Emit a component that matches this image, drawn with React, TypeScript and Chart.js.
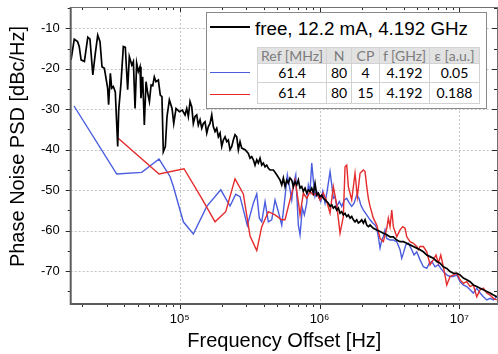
import React, { useEffect, useRef } from "react";
import { Chart, registerables } from "chart.js";

Chart.register(...registerables);

const FONT = '"Liberation Sans", Arial, Helvetica, sans-serif';
const TABLE_FONT = 'Lato, "Open Sans", sans-serif';

// ---- free-running oscillator (black) ----
const freeFreq = [
  16700, 17600, 18600, 19100, 19700, 20800, 22000, 22800, 23900, 24900,
  25900, 26900, 27800, 28900, 30500, 31000, 31900, 32600, 33500, 34600,
  36000, 36600, 38000, 39500, 40800, 42400, 43600, 45400, 46600, 47900,
  49200, 50600, 52000, 52800, 54300, 55800, 57400, 59000, 60700, 62400,
  64100, 65800, 67600, 70300, 72600, 74600, 76300, 78900, 81100, 84300,
  88100, 90600, 94100, 99400,
  104300, 109100, 112200, 115200, 118500, 121900, 125100, 128700, 132300, 135800,
  139700, 143700, 147500, 151700, 156100, 160200, 164700, 169400, 173900, 178800,
  183900, 188900, 194300, 199700, 205100, 210900, 216900, 222600, 229000, 235500,
  241800, 248600, 255700, 262600, 270000, 277600, 293200, 309500, 318400, 327300,
  336200, 345600, 355600, 364900, 375300, 386000, 396300, 407600, 419200, 430400,
  442600,
  467500, 494100, 521900, 536600, 551000, 566600, 582700, 598200, 615200, 632600,
  649600, 667900, 686900, 705300, 725300, 745900, 765800, 787500, 809800, 831500,
  855100, 879300, 902800, 928400, 955000, 980400, 1008000, 1037000, 1065000, 1095000,
  1126000, 1156000, 1189000, 1223000, 1255000, 1291000, 1327000, 1363000, 1402000, 1441000,
  1480000, 1522000, 1565000, 1607000, 1653000, 1699000, 1745000, 1794000, 1845000, 1895000,
  1949000, 2004000, 2058000, 2116000, 2176000, 2234000, 2298000, 2426000, 2565000, 2709000,
  2860000, 3025000, 3193000, 3372000, 3566000, 3766000, 3976000, 4205000, 4439000, 4688000,
  4958000, 5235000, 5527000, 5847000, 6172000, 6517000, 6892000, 7277000, 7684000, 8127000,
  8582000, 9061000, 9581000, 10120000, 10680000, 11300000, 11930000, 12600000, 13320000, 14070000,
  14850000, 15710000, 16590000, 17510000, 18520000,
];
const freeVal = [
  -17.8, -12.7, -13.3, -14.5, -17.8, -18.2, -12.2, -12.7, -21.5, -16.2,
  -11.7, -13.3, -19.5, -19.9, -24.8, -28.9, -21.1, -24.8, -24.4, -25.7,
  -39.2, -30.2, -23.6, -14.5, -14.7, -25.2, -17.0, -19.1, -18.2, -29.8,
  -18.6, -20.7, -19.5, -27.3, -22.0, -33.9, -23.2, -26.0, -28.1, -24.0,
  -24.2, -22.0, -23.2, -22.8, -26.5, -26.9, -40.5, -39.2, -31.8, -27.7,
  -29.8, -33.5, -29.8, -30.6,
  -30.2, -31.4, -29.8, -31.8, -28.1, -29.4, -33.5, -31.8, -31.4, -33.9,
  -32.6, -34.7, -33.5, -33.1, -35.9, -34.3, -33.5, -31.4, -34.3, -35.5,
  -34.7, -36.8, -35.9, -39.2, -37.6, -36.8, -38.0, -37.6, -40.0, -39.2,
  -37.6, -36.3, -36.8, -40.0, -38.0, -39.6, -40.0, -40.9, -42.1, -41.7,
  -42.5, -43.8, -42.5, -43.3, -42.1, -43.8, -43.3, -44.2, -43.8, -44.6,
  -45.0,
  -45.0, -46.2, -47.5, -48.7, -47.0, -49.1, -47.5, -48.3, -47.0, -47.5,
  -49.1, -47.9, -48.7, -47.5, -49.5, -49.1, -50.3, -49.5, -50.7, -49.9,
  -50.3, -49.5, -50.7, -48.3, -51.2, -50.7, -51.6, -51.2, -52.0, -52.4,
  -52.8, -53.2, -54.0, -53.6, -54.4, -54.0, -54.9, -54.4, -55.7, -55.3,
  -56.1, -55.7, -56.5, -56.1, -56.9, -56.5, -57.3, -57.8, -57.3, -58.1,
  -57.8, -57.3, -58.1, -57.3, -58.6, -59.0, -58.6, -59.4, -59.8, -60.2,
  -60.6, -61.0, -61.5, -61.5, -62.3, -62.7, -62.7, -63.1, -63.5, -63.9,
  -64.3, -64.7, -65.2, -66.0, -66.4, -66.8, -67.6, -68.0, -68.9, -69.3,
  -70.1, -70.5, -70.5, -70.9, -71.7, -72.1, -72.6, -73.4, -73.8, -74.2,
  -74.6, -75.0, -75.4, -75.9, -76.3,
];

// ---- locked, CP = 4 (blue) ----
const cp4Freq = [
  17540, 35430, 53480, 71110, 85220, 90040, 106100, 125100, 156100, 196600,
  229000, 251500, 270000, 304400, 336200, 355600, 371100, 386000, 407600, 430400,
  455000, 480400, 507400, 536600, 566600, 588400, 615200, 632600, 649600, 675800,
  705300, 725300, 753400, 778500, 809800, 831500, 855100, 879300, 902800, 928400,
  955000, 980400, 1020000, 1054000, 1095000, 1137000, 1189000, 1223000, 1255000, 1291000,
  1327000, 1385000, 1441000, 1504000, 1565000, 1634000, 1699000, 1766000, 1845000, 1916000,
  1970000, 2058000, 2176000, 2298000, 2402000, 2495000, 2565000, 2634000, 2709000, 2786000,
  2860000, 2941000, 3025000, 3193000, 3372000, 3566000, 3766000, 3873000, 3976000, 4137000,
  4317000, 4565000, 4742000, 4958000, 5235000, 5527000, 5847000, 6101000, 6348000, 6702000,
  7077000, 7362000, 7684000, 8127000, 8582000, 9061000, 9581000, 10120000, 10680000, 11300000,
  11930000, 12600000, 13320000, 14070000, 14850000, 15710000, 16590000, 17510000, 18520000, 19240000,
];
const cp4Val = [
  -29.2, -46.0, -45.6, -42.3, -46.6, -49.1, -57.8, -60.8, -54.0, -49.9,
  -53.9, -51.0, -51.6, -58.7, -53.2, -50.9, -56.9, -57.8, -52.8, -57.8,
  -57.3, -52.4, -55.3, -58.6, -51.6, -46.2, -49.9, -52.4, -48.7, -46.2,
  -58.6, -61.0, -54.4, -56.1, -53.2, -48.7, -50.3, -43.3, -47.5, -51.6,
  -50.3, -51.6, -52.8, -50.3, -53.2, -49.9, -45.4, -48.7, -52.0, -51.6,
  -54.0, -52.8, -54.0, -52.4, -52.0, -53.2, -54.0, -53.2, -51.2, -52.0,
  -53.6, -54.9, -56.1, -57.3, -58.1, -58.6, -59.4, -61.5, -64.3, -62.3,
  -61.5, -59.8, -61.9, -62.3, -62.3, -62.7, -64.7, -66.8, -65.6, -63.5,
  -63.1, -64.7, -66.0, -65.2, -67.2, -68.9, -69.3, -68.0, -67.6, -68.9,
  -68.4, -69.3, -70.1, -70.9, -71.3, -71.3, -70.9, -72.6, -73.4, -73.8,
  -74.6, -75.4, -74.2, -75.4, -76.3, -77.1, -76.7, -77.1, -76.3, -76.6,
];

// ---- locked, CP = 15 (red) ----
const cp15Freq = [
  35780, 71110, 107300, 143700, 178800, 213300, 248600, 285000, 318400, 355600,
  386000, 430400, 480400, 536600, 566600, 598200, 632600, 667900, 705300, 725300,
  765800, 809800, 855100, 902800, 955000, 1008000, 1065000, 1126000, 1189000, 1255000,
  1327000, 1402000, 1480000, 1522000, 1565000, 1607000, 1699000, 1794000, 1864000, 1949000,
  2058000, 2116000, 2176000, 2234000, 2298000, 2426000, 2565000, 2709000, 2860000, 3025000,
  3105000, 3193000, 3285000, 3372000, 3566000, 3766000, 3937000, 4089000, 4205000, 4439000,
  4688000, 4958000, 5090000, 5235000, 5527000, 5847000, 6172000, 6517000, 6813000, 7077000,
  7362000, 7684000, 8127000, 8582000, 9061000, 9581000, 10120000, 10680000, 11300000, 11930000,
  12600000, 13320000, 14070000, 14850000, 15710000, 16590000, 17510000, 18520000,
];
const cp15Val = [
  -37.0, -46.0, -44.7, -52.0, -57.8, -55.3, -47.2, -50.9, -61.3, -64.9,
  -59.0, -55.3, -56.1, -57.3, -57.3, -54.0, -50.7, -47.5, -52.8, -56.1,
  -50.7, -52.0, -50.3, -51.2, -50.7, -52.4, -50.7, -52.8, -55.7, -49.1,
  -53.6, -60.6, -56.5, -44.2, -43.8, -49.1, -52.4, -45.8, -51.6, -45.8,
  -45.0, -45.4, -49.1, -52.0, -54.0, -56.9, -58.6, -61.9, -62.7, -59.4,
  -56.9, -59.0, -54.9, -59.0, -61.5, -59.8, -59.0, -59.4, -61.5, -62.7,
  -63.1, -63.9, -64.7, -63.9, -63.9, -65.2, -68.4, -67.2, -66.0, -68.0,
  -66.0, -68.9, -73.4, -71.3, -70.9, -70.5, -72.1, -73.0, -72.6, -73.8,
  -73.4, -76.3, -74.6, -74.2, -75.4, -75.9, -76.7, -77.1,
];

// ---- axes ----
const xTickValues = [
  20000, 30000, 40000, 50000, 60000, 70000, 80000, 90000,
  100000, 200000, 300000, 400000, 500000, 600000, 700000, 800000, 900000,
  1000000, 2000000, 3000000, 4000000, 5000000, 6000000, 7000000, 8000000, 9000000,
  10000000,
];
const xLabelValues = [100000, 1000000, 10000000];
const xTickLabels = ["10⁵", "10⁶", "10⁷"];
const yTickValues = [-75, -70, -65, -60, -55, -50, -45, -40, -35, -30, -25, -20, -15, -10, -5];
const yLabelValues = [-70, -60, -50, -40, -30, -20, -10];
const yTickLabels = ["-70", "-60", "-50", "-40", "-30", "-20", "-10"];
const xTitle = "Frequency Offset [Hz]";
const yTitle = "Phase Noise PSD [dBc/Hz]";
const X_MIN = 16600;
const X_MAX = 18900000;
const Y_MIN = -78.1;
const Y_MAX = -4.75;

// ---- legend ----
const freeLabel = "free, 12.2 mA, 4.192 GHz";
const tableHeader = ["Ref [MHz]", "N", "CP", "f [GHz]", "ε [a.u.]"];
const tableRows = [
  ["61.4", "80", "4", "4.192", "0.05"],
  ["61.4", "80", "15", "4.192", "0.188"],
];

const COLORS = { free: "#000000", cp4: "#4a5ddf", cp15: "#e52b2b" };

const isMajorX = (v: number) => xLabelValues.some((m) => Math.abs(m - v) / m < 1e-6);
const isMajorY = (v: number) => yLabelValues.includes(v);

const framePlugin = {
  id: "frameGrid",
  beforeDatasetsDraw(chart: any) {
    const { ctx, chartArea: a } = chart;
    const xs = chart.scales.x;
    const ys = chart.scales.y;
    ctx.save();
    ctx.strokeStyle = "#c3c3c3";
    ctx.lineWidth = 1;
    ctx.setLineDash([2, 2]);
    ctx.beginPath();
    for (const v of xLabelValues) {
      const p = Math.round(xs.getPixelForValue(v)) + 0.5;
      ctx.moveTo(p, a.top);
      ctx.lineTo(p, a.bottom);
    }
    for (const v of yLabelValues) {
      const p = Math.round(ys.getPixelForValue(v)) + 0.5;
      ctx.moveTo(a.left, p);
      ctx.lineTo(a.right, p);
    }
    ctx.stroke();
    ctx.restore();
  },
  afterDatasetsDraw(chart: any) {
    const { ctx, chartArea: a } = chart;
    const xs = chart.scales.x;
    const ys = chart.scales.y;
    ctx.save();
    ctx.strokeStyle = "#2a2a2a";
    ctx.lineWidth = 1;
    ctx.beginPath();
    for (const v of xTickValues) {
      const p = Math.round(xs.getPixelForValue(v)) + 0.5;
      const L = isMajorX(v) ? 5 : 3;
      ctx.moveTo(p, a.bottom);
      ctx.lineTo(p, a.bottom + L);
      ctx.moveTo(p, a.top);
      ctx.lineTo(p, a.top + L);
    }
    for (const v of yTickValues) {
      const p = Math.round(ys.getPixelForValue(v)) + 0.5;
      const L = isMajorY(v) ? 5 : 3;
      ctx.moveTo(a.left, p);
      ctx.lineTo(a.left - L, p);
      ctx.moveTo(a.right, p);
      ctx.lineTo(a.right - L - 1, p);
    }
    ctx.stroke();
    ctx.strokeStyle = "#5c5c5c";
    ctx.lineWidth = 2;
    ctx.beginPath();
    ctx.moveTo(a.left, a.top);
    ctx.lineTo(a.left, a.bottom + 1);
    ctx.moveTo(a.left - 1, a.bottom);
    ctx.lineTo(a.right, a.bottom);
    ctx.stroke();
    ctx.lineWidth = 1;
    ctx.strokeStyle = "#707070";
    ctx.beginPath();
    ctx.moveTo(a.left, a.top + 0.5);
    ctx.lineTo(a.right, a.top + 0.5);
    ctx.moveTo(a.right - 0.5, a.top);
    ctx.lineTo(a.right - 0.5, a.bottom);
    ctx.stroke();

    // y-axis title (rotated), slightly above the axis middle as in the original
    ctx.fillStyle = "#000";
    ctx.font = `20px ${FONT}`;
    ctx.textAlign = "center";
    ctx.textBaseline = "middle";
    ctx.translate(18.7, (a.top + a.bottom) / 2 - 9);
    ctx.rotate(-Math.PI / 2);
    ctx.fillText(yTitle, 0, 0);
    ctx.restore();
  },
};

const toPoints = (f: number[], v: number[]) => f.map((x, i) => ({ x, y: v[i] }));

export default function App() {
  const ref = useRef<HTMLCanvasElement>(null);
  useEffect(() => {
    const chart = new Chart(ref.current as HTMLCanvasElement, {
      type: "line",
      data: {
        datasets: [
          {
            label: freeLabel,
            data: toPoints(freeFreq, freeVal),
            borderColor: COLORS.free,
            borderWidth: 1.7,
            pointRadius: 0,
            tension: 0,
            order: 1,
          },
          {
            label: "CP 4",
            data: toPoints(cp4Freq, cp4Val),
            borderColor: COLORS.cp4,
            borderWidth: 1.4,
            pointRadius: 0,
            tension: 0,
            order: 3,
          },
          {
            label: "CP 15",
            data: toPoints(cp15Freq, cp15Val),
            borderColor: COLORS.cp15,
            borderWidth: 1.4,
            pointRadius: 0,
            tension: 0,
            order: 2,
          },
        ],
      },
      options: {
        animation: false,
        responsive: false,
        devicePixelRatio: 1,
        layout: { padding: { top: 7, right: 0, bottom: 0, left: 0 } },
        plugins: { legend: { display: false }, tooltip: { enabled: false } },
        scales: {
          x: {
            type: "logarithmic",
            min: X_MIN,
            max: X_MAX,
            afterBuildTicks: (s: any) => {
              s.ticks = xTickValues.map((value) => ({ value }));
            },
            afterFit: (s: any) => {
              s.height = 50;
              s.paddingLeft = 0;
              s.paddingRight = 0;
            },
            grid: { display: false, drawTicks: false },
            border: { display: false },
            ticks: {
              autoSkip: false,
              maxRotation: 0,
              minRotation: 0,
              padding: 7.5,
              color: "#000",
              font: { family: FONT, size: 13 },
              callback: (v: any) => {
                const i = xLabelValues.findIndex((m) => Math.abs(m - Number(v)) / m < 1e-6);
                return i >= 0 ? xTickLabels[i] : "";
              },
            },
            title: {
              display: true,
              text: xTitle,
              color: "#000",
              font: { family: FONT, size: 20 },
              padding: { top: 0, bottom: 1 },
            },
          },
          y: {
            type: "linear",
            min: Y_MIN,
            max: Y_MAX,
            afterBuildTicks: (s: any) => {
              s.ticks = yTickValues.map((value) => ({ value }));
            },
            afterFit: (s: any) => {
              s.width = 70.7;
              s.paddingTop = 0;
              s.paddingBottom = 0;
            },
            grid: { display: false, drawTicks: false },
            border: { display: false },
            ticks: {
              autoSkip: false,
              padding: 11,
              color: "#000",
              font: { family: FONT, size: 13 },
              callback: (v: any) => {
                const i = yLabelValues.indexOf(Number(v));
                return i >= 0 ? yTickLabels[i] : "";
              },
            },
            title: { display: false, text: yTitle },
          },
        },
      },
      plugins: [framePlugin],
    } as any);
    return () => chart.destroy();
  }, []);

  const cellBorder = "1px solid #d2d2d2";
  const colWidths = [69, 25, 28, 50, 50];
  const rowHeights = [19, 21];

  return (
    <div style={{ position: "fixed", left: 0, top: 0, width: 498, height: 354, overflow: "hidden", background: "#fff" }}>
      <canvas ref={ref} width={498} height={354} style={{ display: "block", width: 498, height: 354 }} />
      <div
        style={{
          position: "absolute",
          left: 206,
          top: 12,
          width: 281,
          height: 97,
          boxSizing: "border-box",
          border: "1px solid #8a8a8a",
          background: "#fff",
        }}
      />
      <div style={{ position: "absolute", left: 210, top: 26, width: 40, height: 2, background: COLORS.free }} />
      <div
        style={{
          position: "absolute",
          left: 255,
          top: 19.5,
          fontFamily: FONT,
          fontSize: 18.8,
          lineHeight: "18px",
          whiteSpace: "nowrap",
          color: "#000",
        }}
      >
        {freeLabel}
      </div>
      <div style={{ position: "absolute", left: 210, top: 71.5, width: 40, height: 1.6, background: COLORS.cp4 }} />
      <div style={{ position: "absolute", left: 210, top: 93.5, width: 40, height: 1.6, background: COLORS.cp15 }} />
      <table
        style={{
          position: "absolute",
          left: 257,
          top: 47,
          width: 222,
          borderCollapse: "collapse",
          tableLayout: "fixed",
          fontFamily: TABLE_FONT,
          fontSize: 14,
          lineHeight: 1,
        }}
      >
        <colgroup>
          {colWidths.map((w, i) => (
            <col key={i} style={{ width: w }} />
          ))}
        </colgroup>
        <tbody>
          <tr style={{ height: 16, background: "#e2e2e2", color: "#7c7c7c" }}>
            {tableHeader.map((h, i) => (
              <td key={i} style={{ border: cellBorder, padding: 0, textAlign: "center", whiteSpace: "nowrap" }}>
                {h}
              </td>
            ))}
          </tr>
          {tableRows.map((row, r) => (
            <tr key={r} style={{ height: rowHeights[r], color: "#000" }}>
              {row.map((c, i) => (
                <td key={i} style={{ border: cellBorder, padding: 0, textAlign: "center", whiteSpace: "nowrap" }}>
                  {c}
                </td>
              ))}
            </tr>
          ))}
        </tbody>
      </table>
    </div>
  );
}
